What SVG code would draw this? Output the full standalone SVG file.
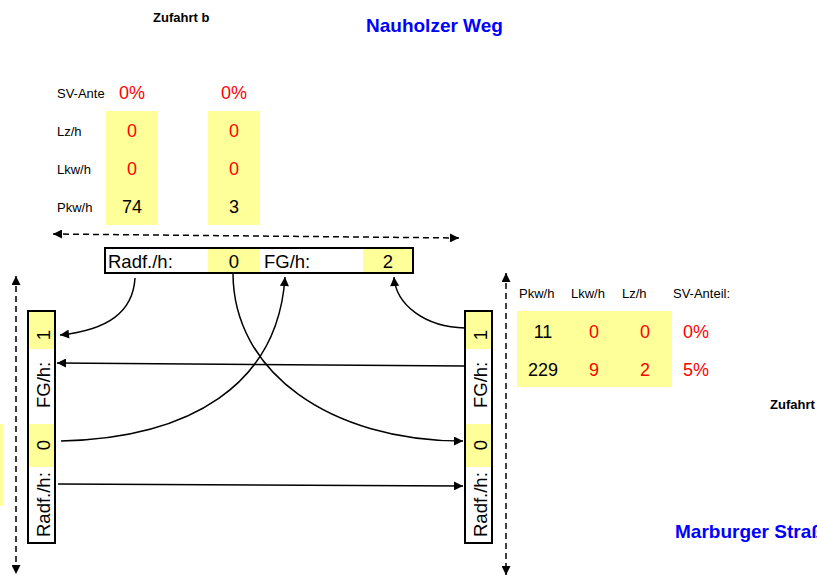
<svg xmlns="http://www.w3.org/2000/svg" width="817" height="576" viewBox="0 0 817 576">
<defs>
<marker id="ah" viewBox="0 0 10 10" refX="10" refY="5" markerWidth="11" markerHeight="9" markerUnits="userSpaceOnUse" orient="auto-start-reverse">
<path d="M0,0 L10,5 L0,10 z" fill="#000"/>
</marker>
<clipPath id="page"><rect x="0" y="0" width="817" height="576"/></clipPath>
</defs>
<style>
text{font-family:"Liberation Sans",Arial,sans-serif}
.lbl{font-size:13px;fill:#000}
.val{font-size:18px}
.red{fill:#ff0000}
.blk{fill:#000}
.box{font-size:18.5px;fill:#000}
.ttl{font-size:13px;font-weight:bold;fill:#000}
.street{font-size:19px;font-weight:bold;fill:#0000ff}
.yel{fill:#ffff99}
.frame{fill:none;stroke:#000;stroke-width:2}
.con{fill:none;stroke:#000;stroke-width:1.5;marker-end:url(#ah)}
.dash{fill:none;stroke:#000;stroke-width:1.5;stroke-dasharray:6,4;marker-start:url(#ah);marker-end:url(#ah)}
</style>
<rect width="817" height="576" fill="#fff"/>

<g id="titles">
<text class="ttl" x="153" y="22">Zufahrt b</text>
<text class="street" x="366" y="32">Nauholzer Weg</text>
<text class="ttl" x="770" y="409">Zufahrt</text>
<text class="street" x="675" y="538" clip-path="url(#page)">Marburger Straße</text>
</g>

<g id="table-top">
<rect class="yel" x="106" y="111" width="52" height="114"/>
<rect class="yel" x="208" y="111" width="52" height="114"/>
<text class="lbl" x="57" y="98">SV-Ante</text>
<text class="lbl" x="57" y="136">Lz/h</text>
<text class="lbl" x="57" y="174">Lkw/h</text>
<text class="lbl" x="57" y="212">Pkw/h</text>
<g text-anchor="middle">
<text class="val red" x="132" y="99">0%</text>
<text class="val red" x="132" y="137">0</text>
<text class="val red" x="132" y="175">0</text>
<text class="val blk" x="132" y="213">74</text>
<text class="val red" x="234" y="99">0%</text>
<text class="val red" x="234" y="137">0</text>
<text class="val red" x="234" y="175">0</text>
<text class="val blk" x="234" y="213">3</text>
</g>
</g>

<g id="table-right">
<rect class="yel" x="517" y="311" width="155" height="76"/>
<text class="lbl" x="519" y="298">Pkw/h</text>
<text class="lbl" x="571" y="298">Lkw/h</text>
<text class="lbl" x="622" y="298">Lz/h</text>
<text class="lbl" x="673" y="298">SV-Anteil:</text>
<g text-anchor="middle">
<text class="val blk" x="543" y="338">11</text>
<text class="val red" x="594" y="338">0</text>
<text class="val red" x="645" y="338">0</text>
<text class="val red" x="696" y="338">0%</text>
<text class="val blk" x="543" y="376">229</text>
<text class="val red" x="594" y="376">9</text>
<text class="val red" x="645" y="376">2</text>
<text class="val red" x="696" y="376">5%</text>
</g>
</g>

<g id="edge-left-yellow">
<rect class="yel" x="0" y="424" width="3" height="82"/>
</g>

<g id="box-top">
<rect class="yel" x="208" y="249" width="52" height="23"/>
<rect class="yel" x="363" y="249" width="49" height="23"/>
<rect class="frame" x="105" y="248" width="308" height="25"/>
<text class="box" x="108" y="268">Radf./h:</text>
<text class="box" x="234" y="268" text-anchor="middle">0</text>
<text class="box" x="264" y="268">FG/h:</text>
<text class="box" x="388" y="268" text-anchor="middle">2</text>
</g>

<g id="box-left">
<rect class="yel" x="29" y="312" width="25" height="37"/>
<rect class="yel" x="29" y="424" width="25" height="43"/>
<rect class="frame" x="28" y="311" width="27" height="232"/>
<text class="box" transform="translate(50,335) rotate(-90)" text-anchor="middle">1</text>
<text class="box" transform="translate(50,408) rotate(-90)">FG/h:</text>
<text class="box" transform="translate(50,445) rotate(-90)" text-anchor="middle">0</text>
<text class="box" transform="translate(50,537) rotate(-90)">Radf./h:</text>
</g>

<g id="box-right">
<rect class="yel" x="466" y="312" width="25" height="37"/>
<rect class="yel" x="466" y="424" width="25" height="43"/>
<rect class="frame" x="465" y="311" width="27" height="232"/>
<text class="box" transform="translate(487,335) rotate(-90)" text-anchor="middle">1</text>
<text class="box" transform="translate(487,408) rotate(-90)">FG/h:</text>
<text class="box" transform="translate(487,445) rotate(-90)" text-anchor="middle">0</text>
<text class="box" transform="translate(487,537) rotate(-90)">Radf./h:</text>
</g>

<g id="connectors">
<path class="dash" d="M53,234 L459,238"/>
<path class="dash" d="M16,276 L16,574"/>
<path class="dash" d="M506,273 L506,575"/>
<path class="con" d="M135,278 C133,312 108,330 60,335"/>
<path class="con" d="M465,366 L57,363"/>
<path class="con" d="M61,441 C190,438 278,385 285,277"/>
<path class="con" d="M233,273 C233,372 330,441 463,441"/>
<path class="con" d="M465,328 C425,327 396,305 394,277"/>
<path class="con" d="M58,484 L463,486"/>
</g>
</svg>
